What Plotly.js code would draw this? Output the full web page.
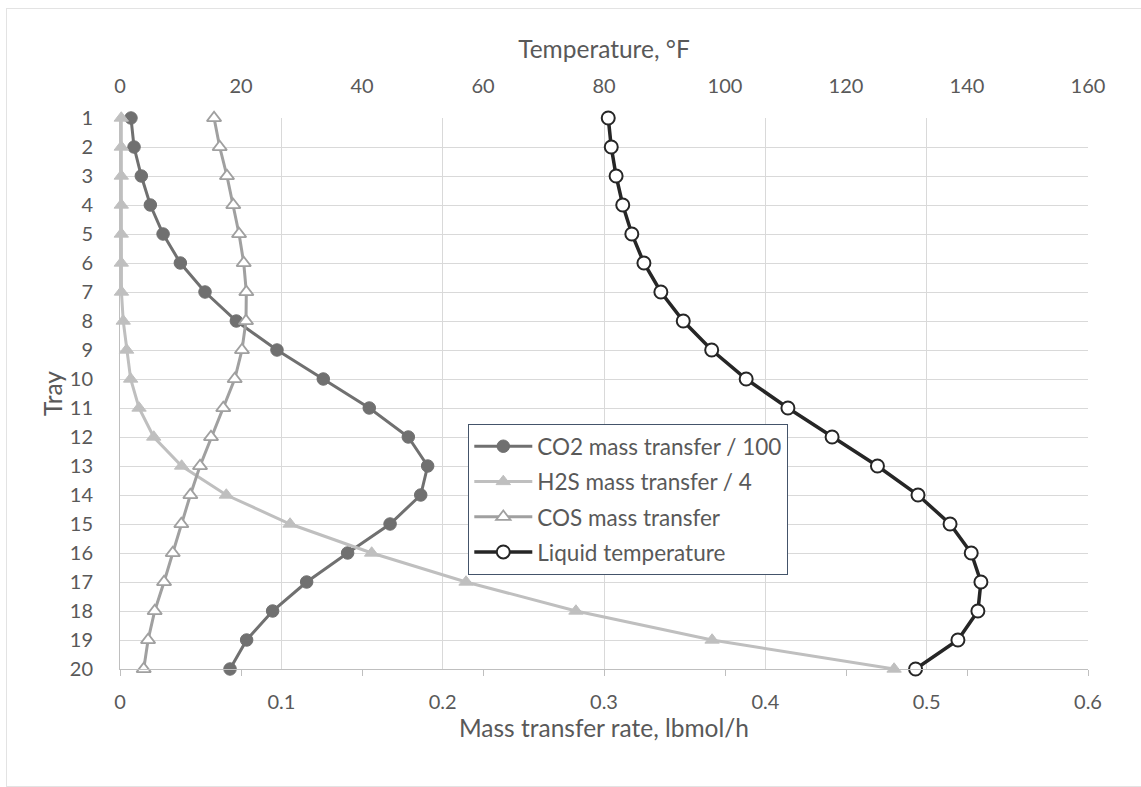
<!DOCTYPE html>
<html>
<head>
<meta charset="utf-8">
<script src="https://cdn.plot.ly/plotly-3.0.1.min.js"></script>
<style>
  html, body { margin: 0; padding: 0; background: #ffffff; overflow: hidden; width: 1141px; height: 787px; }
  #chart { width: 1141px; height: 787px; }
  #frame { position: absolute; left: 6px; top: 8px; width: 1200px; height: 777px;
           border: 1px solid #e3e3e3; pointer-events: none; }
</style>
</head>
<body>
<div id="chart"></div>
<div id="frame"></div>
<script>
// Tray numbers (y axis, reversed)
const trays = [1,2,3,4,5,6,7,8,9,10,11,12,13,14,15,16,17,18,19,20];

// Mass transfer rates, lbmol/h (bottom axis)
const co2Div100 = [0.0068,0.0087,0.0132,0.0188,0.0267,0.0374,0.0527,0.0721,0.0973,0.126,
                   0.1545,0.1787,0.1907,0.1864,0.1674,0.1411,0.1157,0.0946,0.0785,0.0682];
const h2sDiv4   = [0.0008,0.0008,0.0008,0.0008,0.0008,0.0008,0.0009,0.002,0.0041,0.0066,
                   0.0118,0.0209,0.0382,0.0659,0.1054,0.156,0.2145,0.2826,0.367,0.4798];
const cos       = [0.0583,0.0618,0.0663,0.0702,0.0738,0.0767,0.0783,0.0781,0.0756,0.0711,
                   0.064,0.0564,0.0496,0.0436,0.038,0.0327,0.0273,0.0215,0.0174,0.0147];

// Liquid temperature, °F (top axis)
const liquidTemp = [80.7,81.2,82.0,83.1,84.6,86.6,89.4,93.1,97.8,103.5,
                    110.4,117.7,125.2,131.9,137.2,140.7,142.3,141.8,138.5,131.5];

const seriesNames = ["CO2 mass transfer / 100", "H2S mass transfer / 4", "COS mass transfer", "Liquid temperature"];

const FONT = "Lato, 'Open Sans', sans-serif";
const TXT = "#595959";

const traces = [
  { x: co2Div100, y: trays, name: seriesNames[0], type: "scatter", mode: "lines+markers",
    xaxis: "x", yaxis: "y", cliponaxis: false, legendgroup: "a",
    line: { color: "#707070", width: 3 },
    marker: { symbol: "circle", size: 12.5, color: "#707070", line: { color: "#707070", width: 1 } } },
  { x: h2sDiv4, y: trays, name: seriesNames[1], type: "scatter", mode: "lines+markers",
    xaxis: "x", yaxis: "y", cliponaxis: false, legendgroup: "b",
    line: { color: "#bfbfbf", width: 3 },
    marker: { symbol: "triangle-up", size: 12.5, color: "#bfbfbf", line: { color: "#bfbfbf", width: 1 } } },
  { x: cos, y: trays, name: seriesNames[2], type: "scatter", mode: "lines+markers",
    xaxis: "x", yaxis: "y", cliponaxis: false, legendgroup: "c",
    line: { color: "#a0a0a0", width: 3 },
    marker: { symbol: "triangle-up", size: 12.5, color: "#ffffff", line: { color: "#a0a0a0", width: 1.8 } } },
  { x: liquidTemp, y: trays, name: seriesNames[3], type: "scatter", mode: "lines+markers",
    xaxis: "x2", yaxis: "y", cliponaxis: false, legendgroup: "d",
    line: { color: "#262626", width: 3.5 },
    marker: { symbol: "circle", size: 13, color: "#ffffff", line: { color: "#262626", width: 2 } } },
  { x: [], y: [], xaxis: "x3", yaxis: "y", type: "scatter", mode: "lines", showlegend: false, hoverinfo: "skip" }
];

const layout = {
  width: 1141, height: 787,
  margin: { l: 120, r: 53, t: 118, b: 118, pad: 0 },
  paper_bgcolor: "#ffffff", plot_bgcolor: "#ffffff",
  font: { family: FONT, color: TXT, size: 20 },
  showlegend: true,
  hovermode: false,
  xaxis: {
    range: [0, 0.6], dtick: 0.1, tick0: 0, autorange: false,
    showgrid: true, gridcolor: "#d9d9d9", gridwidth: 1,
    zeroline: false, showline: false, ticks: "",
    tickfont: { family: FONT, size: 20, color: TXT },
    ticklabelstandoff: 19,
    title: { text: "Mass transfer rate, lbmol/h", font: { family: FONT, size: 24.5, color: TXT }, standoff: 6 }
  },
  xaxis2: {
    overlaying: "x", side: "top", anchor: "y",
    range: [0, 160], dtick: 20, tick0: 0, autorange: false,
    showgrid: false, zeroline: false, showline: false, ticks: "",
    tickfont: { family: FONT, size: 20, color: TXT },
    ticklabelstandoff: 20,
    title: { text: "Temperature, °F", font: { family: FONT, size: 24.5, color: TXT }, standoff: 7 }
  },
  xaxis3: {
    overlaying: "x", side: "bottom", anchor: "y",
    range: [0, 160], dtick: 20, tick0: 0, autorange: false,
    showgrid: false, zeroline: false, showline: true, linecolor: "#bfbfbf", linewidth: 1,
    ticks: "outside", ticklen: 6, tickcolor: "#bfbfbf", tickwidth: 1,
    showticklabels: false
  },
  yaxis: {
    range: [20, 1], autorange: false, dtick: 1, tick0: 1,
    showgrid: true, gridcolor: "#d9d9d9", gridwidth: 1,
    zeroline: false, showline: true, linecolor: "#bfbfbf", linewidth: 1, ticks: "",
    tickfont: { family: FONT, size: 20, color: TXT },
    ticklabelstandoff: 22,
    title: { text: "Tray", font: { family: FONT, size: 24.5, color: TXT }, standoff: 0 }
  },
  legend: {
    x: 0.3595, y: 0.445, xanchor: "left", yanchor: "top",
    bgcolor: "#ffffff", bordercolor: "#44546a", borderwidth: 1.3,
    font: { family: FONT, size: 22.5, color: TXT },
    tracegroupgap: 3, itemwidth: 58
  }
};

Plotly.newPlot("chart", traces, layout, { displayModeBar: false, staticPlot: true });
</script>
</body>
</html>
